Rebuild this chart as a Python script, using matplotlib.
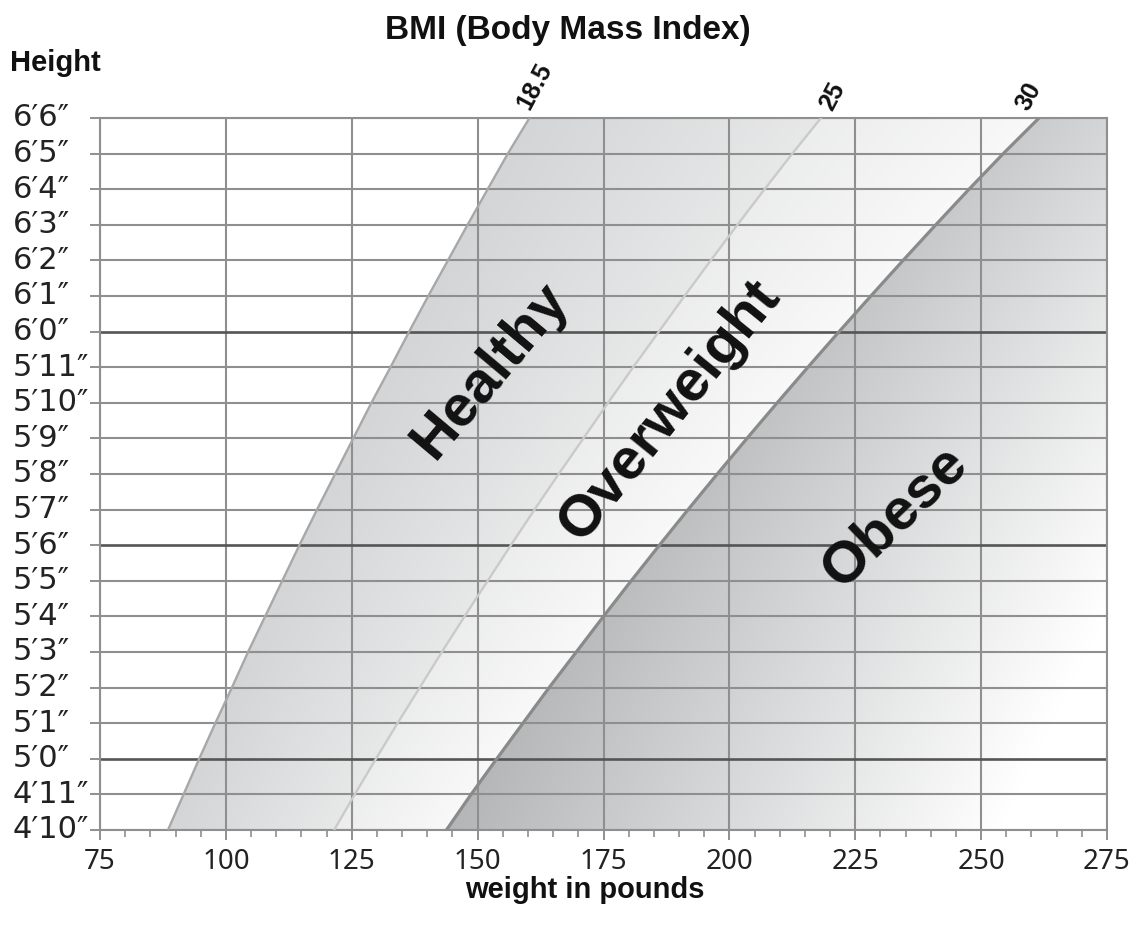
import matplotlib
matplotlib.use("Agg")
import matplotlib.pyplot as plt
import matplotlib.transforms as mtransforms
import numpy as np
from matplotlib.ticker import MultipleLocator

# heights in inches and the boundary weights (lb)
heights_in = list(range(58, 79))
height_labels = ["4′10″", "4′11″", "5′0″", "5′1″", "5′2″", "5′3″", "5′4″",
                 "5′5″", "5′6″", "5′7″", "5′8″", "5′9″", "5′10″", "5′11″",
                 "6′0″", "6′1″", "6′2″", "6′3″", "6′4″", "6′5″", "6′6″"]
bmi18_lb = [88.5, 91.6, 94.7, 97.9, 101.2, 104.4, 107.8, 111.2, 114.6, 118.1,
            121.7, 125.3, 128.9, 132.7, 136.4, 140.2, 144.1, 148.0, 152.0, 156.0, 160.3]
bmi25_lb = [121.5, 125.6, 129.8, 134.1, 138.5, 142.9, 147.4, 152.0, 156.6, 161.3,
            166.1, 171.0, 175.9, 180.9, 186.0, 191.1, 196.3, 201.6, 207.0, 212.5, 218.2]
bmi30_lb = [143.8, 148.7, 153.8, 159.0, 164.2, 169.6, 175.0, 180.5, 186.1, 191.8,
            197.6, 203.5, 209.5, 215.6, 221.8, 228.1, 234.5, 241.0, 247.6, 254.4, 261.5]
bmi_labels = ["18.5", "25", "30"]
weight_ticks = [75, 100, 125, 150, 175, 200, 225, 250, 275]
bold_rows = [60, 66, 72]

zone_names = ["Healthy", "Overweight", "Obese"]
zone_w = [152.5, 188.2, 232.9]
zone_h = [70.9, 69.8, 66.8]
zone_rot = [50, 51, 44]

BOLD = "Liberation Sans"
GRID = "#8f8f8f"

fig = plt.figure(figsize=(11.37, 9.26), dpi=100)
ax = fig.add_axes([100 / 1137, 1 - 830 / 926, 1007 / 1137, 712 / 926])

# shaded bands
xs = np.linspace(75, 275, 1200)
ys = np.linspace(58, 78, 600)
W, H = np.meshgrid(xs, ys)
lo = np.interp(ys, heights_in, bmi18_lb)[:, None]
mid = np.interp(ys, heights_in, bmi25_lb)[:, None]
hi = np.interp(ys, heights_in, bmi30_lb)[:, None]
g = np.ones_like(W)
t1 = (W - lo) / (mid - lo)
g = np.where((W >= lo) & (W < mid), 0.835 + 0.075 * t1, g)
t2 = (W - mid) / (hi - mid)
g = np.where((W >= mid) & (W < hi), 0.93 + 0.045 * t2, g)
d = np.clip((W - hi) / 110, 0, 1)
g = np.where(W >= hi, 0.71 + 0.29 * d + 0.09 * (H - 58) / 20, g)
g = np.clip(g, 0, 1)
tint = 0.008 * (1 - g) / 0.3
rgb = np.dstack([np.clip(g - tint, 0, 1), g, np.clip(g + tint, 0, 1)])
ax.imshow(rgb, extent=[75, 275, 58, 78], origin="lower", aspect="auto",
          interpolation="bilinear", zorder=0)

# grid
for w in weight_ticks:
    ax.axvline(w, color=GRID, lw=1.5, zorder=2)
for h in heights_in:
    dark = h in bold_rows
    ax.axhline(h, color="#555555" if dark else GRID, lw=1.9 if dark else 1.5, zorder=2)

# BMI curves
ax.plot(bmi18_lb, heights_in, color="#a8a8a8", lw=1.7, zorder=3)
ax.plot(bmi25_lb, heights_in, color="#cacaca", lw=1.7, zorder=3)
ax.plot(bmi30_lb, heights_in, color="#8a8a8a", lw=2.3, zorder=3)

ax.set_xlim(75, 275)
ax.set_ylim(58, 78)
ax.set_xticks(weight_ticks)
ax.xaxis.set_minor_locator(MultipleLocator(5))
ax.set_yticks(heights_in)
ax.set_yticklabels([])
for s in ax.spines.values():
    s.set_color(GRID)
    s.set_linewidth(1.5)
ax.tick_params(which="major", length=7, width=1.4, color=GRID, direction="out",
               labelsize=20, labelcolor="#222222")
ax.tick_params(axis="x", which="major", pad=6)
ax.tick_params(axis="x", which="minor", length=5, width=1.2, color=GRID)
for lab in ax.get_xticklabels():
    lab.set_family("Noto Sans")

# height labels, left aligned as in the original
ytrans = mtransforms.blended_transform_factory(fig.transFigure, ax.transData)
for h, lab in zip(heights_in, height_labels):
    fig.text(13 / 1137, h, lab, transform=ytrans, ha="left", va="center",
             fontsize=22, family="DejaVu Sans", color="#222222")

# zone labels
for name, w, h, r in zip(zone_names, zone_w, zone_h, zone_rot):
    ax.text(w, h, name, rotation=r, rotation_mode="anchor", ha="center", va="center",
            fontsize=42, fontweight="bold", family=BOLD, color="#111111", zorder=5)

# BMI value labels at the top of each curve
tops = [bmi18_lb[-1], bmi25_lb[-1], bmi30_lb[-1]]
offs = [(5, 32), (11, 22), (-10, 22)]
for lab, w, off in zip(bmi_labels, tops, offs):
    ax.annotate(lab, (w, 78), xytext=off, textcoords="offset pixels", rotation=62,
                ha="center", va="center", fontsize=18, fontweight="bold", family=BOLD,
                color="#111111", annotation_clip=False)

fig.text(568 / 1137, 1 - 30 / 926, "BMI (Body Mass Index)", ha="center", va="center",
         fontsize=24, fontweight="bold", family=BOLD, color="#111111")
fig.text(10 / 1137, 1 - 63 / 926, "Height", ha="left", va="center",
         fontsize=21, fontweight="bold", family=BOLD, color="#111111")
fig.text(585 / 1137, 1 - 890 / 926, "weight in pounds", ha="center", va="center",
         fontsize=21, fontweight="bold", family=BOLD, color="#111111")

fig.savefig("out.png", dpi=100)
